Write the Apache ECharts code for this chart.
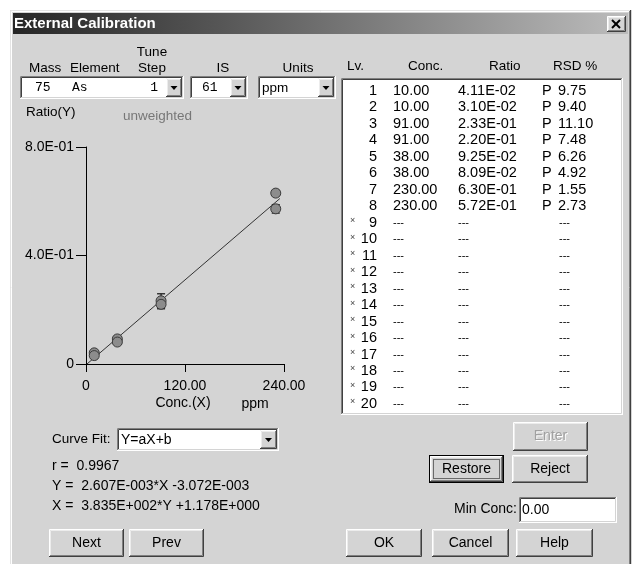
<!DOCTYPE html>
<html><head><meta charset="utf-8">
<script src="https://cdn.jsdelivr.net/npm/echarts@6/dist/echarts.min.js"></script>
<style>html,body{margin:0;padding:0;background:#fff}#c{width:632px;height:564px}</style>
</head><body><div id="c"></div>
<script>
// ---------------- data ----------------
const levels = [1,2,3,4,5,6,7,8,9,10,11,12,13,14,15,16,17,18,19,20];
const concVals = [10.00, 10.00, 91.00, 91.00, 38.00, 38.00, 230.00, 230.00];
const ratioVals = [0.0411, 0.0310, 0.233, 0.220, 0.0925, 0.0809, 0.630, 0.572];
const rsdVals = [9.75, 9.40, 11.10, 7.48, 6.26, 4.92, 1.55, 2.73];
const flagVals = ['P','P','P','P','P','P','P','P'];
const xTickVals = [0, 120, 240];
const yTickVals = [0, 0.4, 0.8];
const fitLine = [[1.18, 0], [235, 0.61]];
const fitText = ['r =  0.9967', 'Y =  2.607E-003*X -3.072E-003', 'X =  3.835E+002*Y +1.178E+000'];
const massText = '75', elementText = 'As', tuneStepText = '1', isText = '61', unitText = 'ppm';
const curveFitText = 'Y=aX+b', minConcText = '0.00';

// ---------------- helpers ----------------
const FACE = '#d4d4d4';
const SANS = '"Liberation Sans", Arial, sans-serif';
const MONO = '"Liberation Mono", "DejaVu Sans Mono", monospace';
function sci(v, d) {
  if (v === 0) return '0';
  let e = Math.floor(Math.log10(Math.abs(v)));
  let m = v / Math.pow(10, e);
  if (Math.abs(m) >= 9.9999) { m /= 10; e += 1; }
  const ae = Math.abs(e);
  return m.toFixed(d) + 'E' + (e < 0 ? '-' : '+') + (ae < 10 ? '0' + ae : '' + ae);
}
const els = [];
function rect(x, y, w, h, fill, z) {
  els.push({type: 'rect', z: z || 1, shape: {x, y, width: w, height: h}, style: {fill}});
}
function pl(points, stroke, z, extra) {
  els.push({type: 'polyline', z: z || 2, shape: {points}, style: Object.assign({stroke, lineWidth: 1, fill: null}, extra || {})});
}
function txt(x, y, text, o) {
  o = o || {};
  const st = {text, x, y, fill: o.color || '#000',
    font: (o.bold ? 'bold ' : '') + (o.size || 13) + 'px ' + (o.family || SANS),
    align: o.align || 'left', verticalAlign: 'middle', textAlign: o.align || 'left', textVerticalAlign: 'middle'};
  els.push({type: 'text', z: o.z || 5, style: st});
}
function raised(x, y, w, h, z) {
  z = z || 1;
  rect(x, y, w, h, FACE, z);
  pl([[x + .5, y + h - 1], [x + .5, y + .5], [x + w - 1, y + .5]], '#ffffff', z + 1);
  pl([[x + 1.5, y + h - 2], [x + 1.5, y + 1.5], [x + w - 2, y + 1.5]], '#ececec', z + 1);
  pl([[x, y + h - .5], [x + w - .5, y + h - .5], [x + w - .5, y]], '#404040', z + 1);
  pl([[x + 1, y + h - 1.5], [x + w - 1.5, y + h - 1.5], [x + w - 1.5, y + 1]], '#808080', z + 1);
}
function sunken(x, y, w, h, fill, z) {
  z = z || 1;
  rect(x, y, w, h, fill, z);
  pl([[x + .5, y + h - 1], [x + .5, y + .5], [x + w - 1, y + .5]], '#808080', z + 1);
  pl([[x + 1.5, y + h - 2], [x + 1.5, y + 1.5], [x + w - 2, y + 1.5]], '#404040', z + 1);
  pl([[x, y + h - .5], [x + w - .5, y + h - .5], [x + w - .5, y]], '#ffffff', z + 1);
  pl([[x + 1, y + h - 1.5], [x + w - 1.5, y + h - 1.5], [x + w - 1.5, y + 1]], FACE, z + 1);
}
function arrowBtn(x, y, w, h) {
  raised(x, y, w, h, 3);
  const cx = x + w / 2, cy = y + h / 2;
  els.push({type: 'polygon', z: 6, shape: {points: [[cx - 3.5, cy - 1.5], [cx + 3.5, cy - 1.5], [cx, cy + 2.5]]}, style: {fill: '#000'}});
}
function button(x, y, w, h, label, o) {
  o = o || {};
  if (o.focus) {
    rect(x, y, w, h, '#000', 1);
    raised(x + 1, y + 1, w - 2, h - 2, 2);
    els.push({type: 'rect', z: 5, shape: {x: x + 4.5, y: y + 4.5, width: w - 9, height: h - 9},
      style: {fill: null, stroke: '#000', lineWidth: 1, lineDash: [1, 1]}});
  } else {
    raised(x, y, w, h, 1);
  }
  if (o.disabled) {
    txt(x + w / 2 + 1, y + h / 2 + 1, label, {align: 'center', size: 14, color: '#ffffff'});
    txt(x + w / 2, y + h / 2, label, {align: 'center', size: 14, color: '#a0a0a0', z: 6});
  } else {
    txt(x + w / 2, y + h / 2, label, {align: 'center', size: 14});
  }
}

// ---------------- dialog frame ----------------
rect(0, 0, 632, 564, '#ffffff', 0);
rect(10, 10, 622, 560, FACE, 0);
pl([[10.5, 564], [10.5, 10.5], [630, 10.5]], '#e4e4e4', 1);
pl([[11.5, 564], [11.5, 11.5], [629, 11.5]], '#ffffff', 1);
pl([[630.5, 10], [630.5, 564]], '#404040', 1);
pl([[629.5, 11], [629.5, 564]], '#808080', 1);
els.push({type: 'rect', z: 1, shape: {x: 13, y: 13, width: 615, height: 21},
  style: {fill: new echarts.graphic.LinearGradient(0, 0, 1, 0, [
    {offset: 0, color: '#262626'}, {offset: 0.35, color: '#585858'}, {offset: 1, color: '#bcbcbc'}])}});
txt(14, 24, 'External Calibration', {bold: true, size: 15, color: '#ffffff'});
raised(607, 16, 19, 16, 3);
pl([[612, 20], [620, 28]], '#000', 6, {lineWidth: 2});
pl([[620, 20], [612, 28]], '#000', 6, {lineWidth: 2});

// ---------------- top controls ----------------
txt(152, 52, 'Tune', {align: 'center', size: 13.5});
txt(29, 68, 'Mass', {size: 13.5});
txt(70, 68, 'Element', {size: 13.5});
txt(152, 68, 'Step', {align: 'center', size: 13.5});
txt(223, 68, 'IS', {align: 'center', size: 13.5});
txt(298, 68, 'Units', {align: 'center', size: 13.5});
txt(347, 66, 'Lv.', {size: 13.5});
txt(408, 66, 'Conc.', {size: 13.5});
txt(489, 66, 'Ratio', {size: 13.5});
txt(553, 66, 'RSD %', {size: 13.5});

sunken(20, 76, 164, 23, '#ffffff', 1);
arrowBtn(166, 78, 16, 19);
txt(35, 88, massText, {family: MONO, size: 13});
txt(72, 88, elementText, {family: MONO, size: 13});
txt(158, 88, tuneStepText, {family: MONO, size: 13, align: 'right'});

sunken(190, 76, 58, 23, '#ffffff', 1);
arrowBtn(230, 78, 16, 19);
txt(202, 88, isText, {family: MONO, size: 13});

sunken(258, 76, 78, 23, '#ffffff', 1);
arrowBtn(318, 78, 16, 19);
txt(262, 88, unitText, {size: 13.5});

txt(26, 112, 'Ratio(Y)', {size: 13.5});
txt(123, 116, 'unweighted', {color: '#777777', size: 13.5});

txt(183, 403, 'Conc.(X)', {align: 'center', size: 14});
txt(255, 404, 'ppm', {align: 'center', size: 14});

// ---------------- list box ----------------
sunken(341, 78, 282, 337, '#ffffff', 1);
levels.forEach(function (lv, i) {
  const y = 91 + i * 16.47;
  txt(377, y, String(lv), {align: 'right', size: 14.5});
  if (i < concVals.length) {
    txt(393, y, concVals[i].toFixed(2), {size: 14.5});
    txt(458, y, sci(ratioVals[i], 2), {size: 14.5});
    txt(542, y, flagVals[i], {size: 14.5});
    txt(558, y, rsdVals[i].toFixed(2), {size: 14.5});
  } else {
    txt(350, y - 2, '×', {size: 9, color: '#444'});
    txt(393, y, '---', {size: 11});
    txt(458, y, '---', {size: 11});
    txt(559, y, '---', {size: 11});
  }
});

// ---------------- bottom controls ----------------
txt(52, 439, 'Curve Fit:', {size: 13.5});
sunken(117, 428, 162, 23, '#ffffff', 1);
arrowBtn(260, 430, 17, 19);
txt(121, 440, curveFitText, {size: 14});
txt(52, 466, fitText[0], {size: 14});
txt(52, 486, fitText[1], {size: 14});
txt(52, 506, fitText[2], {size: 14});

button(513, 422, 75, 29, 'Enter', {disabled: true});
button(429, 455, 75, 28, 'Restore', {focus: true});
button(512, 455, 76, 28, 'Reject');
txt(517, 509, 'Min Conc:', {align: 'right', size: 14});
sunken(519, 497, 98, 26, '#ffffff', 1);
txt(522, 510, minConcText, {size: 14});
button(49, 529, 75, 28, 'Next');
button(129, 529, 75, 28, 'Prev');
button(346, 529, 76, 28, 'OK');
button(432, 529, 77, 28, 'Cancel');
button(516, 529, 77, 28, 'Help');

// ---------------- chart ----------------
const chart = echarts.init(document.getElementById('c'), null, {renderer: 'canvas'});
const pts = concVals.map(function (c, i) { return [c, ratioVals[i]]; });
const errs = concVals.map(function (c, i) {
  const sd = ratioVals[i] * rsdVals[i] / 100;
  return [c, ratioVals[i] - sd, ratioVals[i] + sd];
});
chart.setOption({
  animation: false,
  textStyle: {fontFamily: SANS},
  graphic: {z: 0, elements: els},
  grid: {left: 86, top: 147, width: 198, height: 217, containLabel: false, outerBoundsMode: 'none', z: 20},
  xAxis: {
    type: 'value', z: 20, min: xTickVals[0], max: xTickVals[xTickVals.length - 1], interval: xTickVals[1] - xTickVals[0],
    axisLine: {show: true, onZero: false, lineStyle: {color: '#000', width: 1}},
    axisTick: {show: true, inside: false, length: 8, lineStyle: {color: '#000'}},
    axisLabel: {show: true, margin: 15, color: '#000', fontSize: 14, fontFamily: SANS, hideOverlap: false,
      showMinLabel: true, showMaxLabel: true,
      formatter: function (v) { return v === 0 ? '0' : v.toFixed(2); }},
    splitLine: {show: false}
  },
  yAxis: {
    type: 'value', z: 20, min: yTickVals[0], max: yTickVals[yTickVals.length - 1], interval: yTickVals[1] - yTickVals[0],
    axisLine: {show: true, onZero: false, lineStyle: {color: '#000', width: 1}},
    axisTick: {show: true, inside: false, length: 10, lineStyle: {color: '#000'}},
    axisLabel: {show: true, margin: 12, color: '#000', fontSize: 14, fontFamily: SANS, hideOverlap: false,
      showMinLabel: true, showMaxLabel: true,
      formatter: function (v) { return v === 0 ? '0' : sci(v, 1); }},
    splitLine: {show: false}
  },
  series: [
    {type: 'line', data: fitLine, symbol: 'none', z: 21, silent: true,
      lineStyle: {color: '#333333', width: 1}},
    {type: 'custom', data: errs, z: 22, clip: false, encode: {x: 0, y: [1, 2]},
      renderItem: function (params, api) {
        const x = api.value(0);
        const p1 = api.coord([x, api.value(1)]);
        const p2 = api.coord([x, api.value(2)]);
        const hw = 4;
        const s = {stroke: '#1e1e1e', lineWidth: 1.3};
        return {type: 'group', children: [
          {type: 'line', shape: {x1: p1[0], y1: p1[1], x2: p2[0], y2: p2[1]}, style: s},
          {type: 'line', shape: {x1: p1[0] - hw, y1: p1[1], x2: p1[0] + hw, y2: p1[1]}, style: s},
          {type: 'line', shape: {x1: p2[0] - hw, y1: p2[1], x2: p2[0] + hw, y2: p2[1]}, style: s}
        ]};
      }},
    {type: 'scatter', data: pts, symbol: 'circle', symbolSize: 10, z: 23, clip: false,
      itemStyle: {color: '#8c8c8c', borderColor: '#3a3a3a', borderWidth: 1, opacity: 1}}
  ]
});
</script></body></html>
